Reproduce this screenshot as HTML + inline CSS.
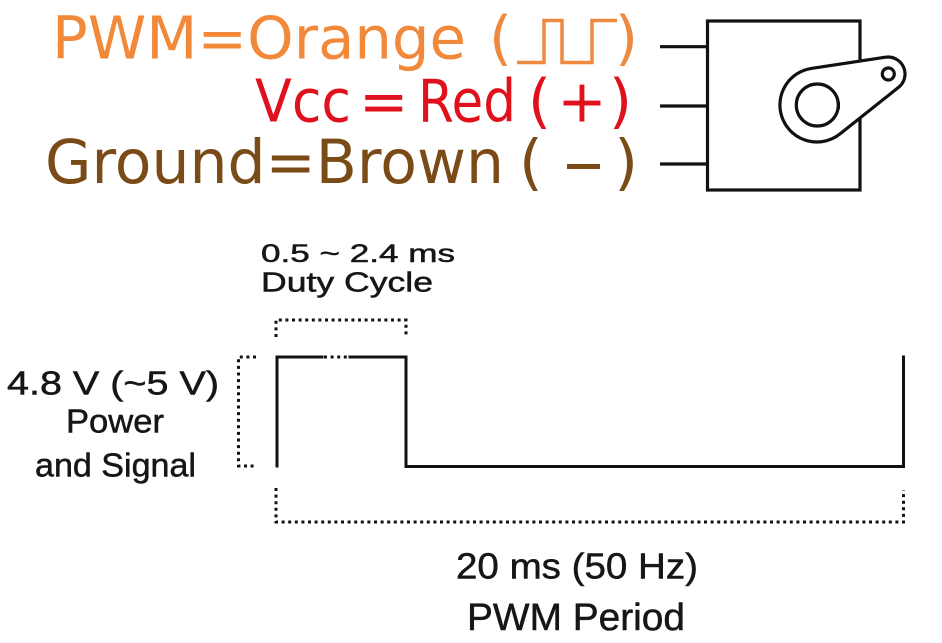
<!DOCTYPE html>
<html>
<head>
<meta charset="utf-8">
<style>
  html, body { margin: 0; padding: 0; background: #fff; }
  body { width: 942px; height: 643px; overflow: hidden; }
  svg { display: block; }
  .t1 { font-family: "DejaVu Sans", "Liberation Sans", sans-serif; }
  .t2 { font-family: "Liberation Sans", "DejaVu Sans", sans-serif; fill: #161616; stroke: #161616; stroke-width: 0.5; }
</style>
</head>
<body>
<svg width="942" height="643" viewBox="0 0 942 643" xmlns="http://www.w3.org/2000/svg">
  <rect x="0" y="0" width="942" height="643" fill="#ffffff"/>

  <!-- Line 1: PWM = Orange -->
  <text class="t1" x="52" y="58.5" font-size="59" fill="#f2893a" textLength="414" lengthAdjust="spacingAndGlyphs">PWM=Orange</text>
  <text class="t1" x="489" y="58.5" font-size="59" fill="#ee8a40">(</text>
  <path d="M517 62.5 H544 V20.5 H562 V62.5 H592 V20.5 H617" fill="none" stroke="#ee8a40" stroke-width="3.5"/>
  <text class="t1" x="638" y="58.5" font-size="59" fill="#ee8a40" text-anchor="end">)</text>

  <!-- Line 2: Vcc = Red -->
  <text class="t1" x="255" y="121.7" font-size="59" fill="#e0101c" textLength="96" lengthAdjust="spacingAndGlyphs">Vcc</text>
  <text class="t1" x="359" y="121.7" font-size="59" fill="#e0101c">=</text>
  <text class="t1" x="418" y="121.7" font-size="59" fill="#e0101c" textLength="98" lengthAdjust="spacingAndGlyphs">Red</text>
  <text class="t1" x="528" y="121.7" font-size="59" fill="#e0101c">(</text>
  <text class="t1" x="582" y="121.7" font-size="59" fill="#e0101c" text-anchor="middle">+</text>
  <text class="t1" x="632" y="121.7" font-size="59" fill="#e0101c" text-anchor="end">)</text>

  <!-- Line 3: Ground = Brown -->
  <text class="t1" x="45" y="183" font-size="61" fill="#7a4a17" textLength="459" lengthAdjust="spacingAndGlyphs">Ground=Brown</text>
  <text class="t1" x="519" y="183" font-size="61" fill="#7a4a17">(</text>
  <rect x="567" y="164" width="33" height="5" fill="#7a4a17"/>
  <text class="t1" x="638" y="183" font-size="61" fill="#7a4a17" text-anchor="end">)</text>

  <!-- Servo -->
  <g stroke="#111" stroke-width="3.2" fill="none">
    <line x1="660" y1="46.7" x2="708" y2="46.7"/>
    <line x1="660" y1="106" x2="708" y2="106"/>
    <line x1="660" y1="164" x2="708" y2="164"/>
    <rect x="707.5" y="21" width="152.5" height="169" fill="#fff"/>
    <path d="M811.4 68.4 L885.4 57.2 A17 17 0 0 1 898.6 87.3 L840 133.9 A37 37 0 1 1 811.4 68.4 Z" fill="#fff"/>
    <circle cx="817.3" cy="105" r="21"/>
    <circle cx="888.3" cy="74" r="6"/>
  </g>
  <rect x="837" y="102" width="3" height="7" fill="#111"/>

  <!-- Labels -->
  <text class="t2" x="261" y="262" font-size="25" textLength="194" lengthAdjust="spacingAndGlyphs">0.5 ~ 2.4 ms</text>
  <text class="t2" x="261" y="291.7" font-size="28" textLength="172" lengthAdjust="spacingAndGlyphs">Duty Cycle</text>

  <text class="t2" x="7" y="394.3" font-size="33" textLength="212" lengthAdjust="spacingAndGlyphs">4.8 V (~5 V)</text>
  <text class="t2" x="66" y="432.3" font-size="33" textLength="98" lengthAdjust="spacingAndGlyphs">Power</text>
  <text class="t2" x="35" y="476.7" font-size="33" textLength="161" lengthAdjust="spacingAndGlyphs">and Signal</text>

  <text class="t2" x="456" y="578.3" font-size="36" textLength="242" lengthAdjust="spacingAndGlyphs">20 ms (50 Hz)</text>
  <text class="t2" x="467" y="630" font-size="38" textLength="218" lengthAdjust="spacingAndGlyphs">PWM Period</text>

  <!-- Waveform -->
  <g stroke="#111" stroke-width="3" fill="none" stroke-linecap="square">
    <polyline points="277,466 277,357 322,357"/>
    <polyline points="350,357 406,357 406,466.5 903.5,466.5 903.5,357"/>
  </g>
  <!-- dotted segments -->
  <g stroke="#111" stroke-width="3" fill="none" stroke-dasharray="3 3.6">
    <line x1="324" y1="357" x2="350" y2="357"/>
    <polyline points="276,337 276,320 406,320 406,337"/>
    <polyline points="256,357 238.5,357 238.5,466 256,466"/>
    <polyline points="276,488 276,522 903.5,522 903.5,490"/>
  </g>
</svg>
</body>
</html>
